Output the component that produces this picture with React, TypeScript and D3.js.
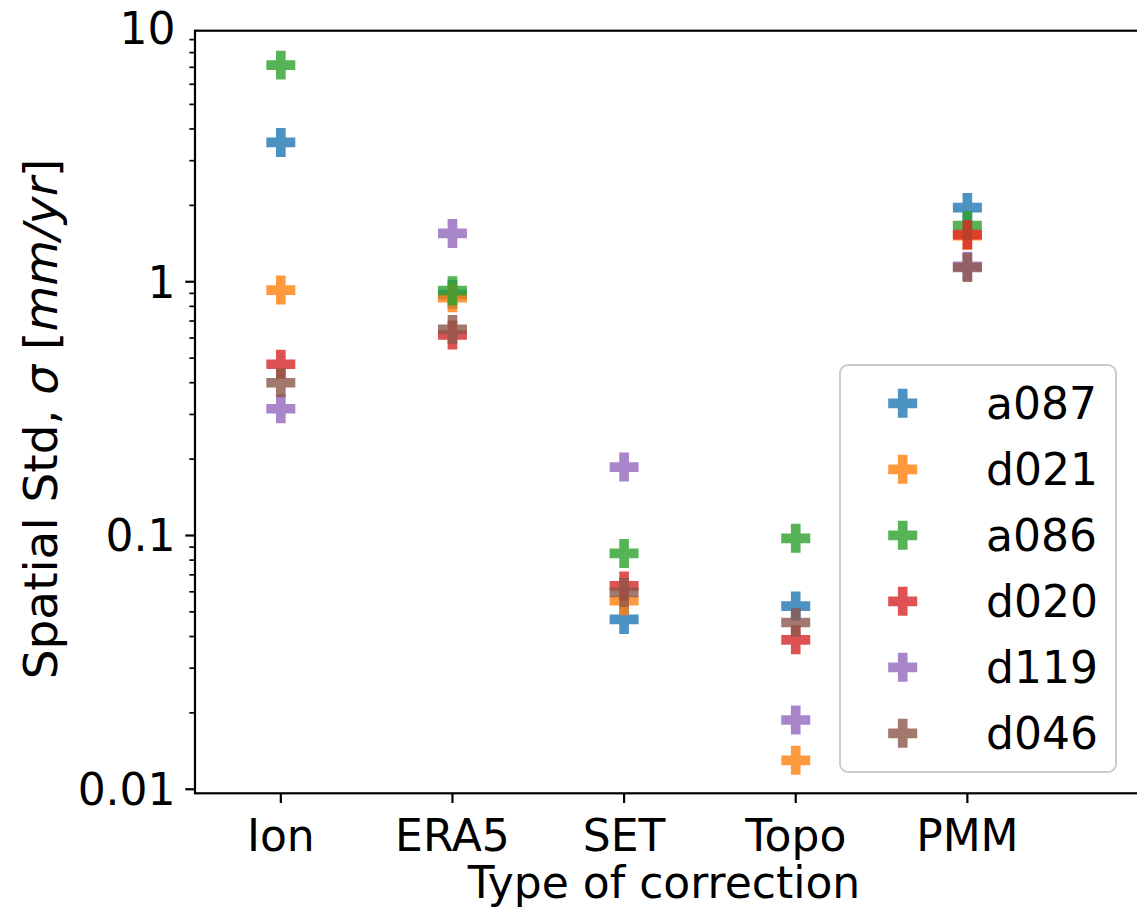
import React from "react";
import * as d3 from "d3";

const categories = ["Ion", "ERA5", "SET", "Topo", "PMM"];
const seriesNames = ["a087", "d021", "a086", "d020", "d119", "d046"];
const colors = ["#1f77b4", "#ff7f0e", "#2ca02c", "#d62728", "#9467bd", "#8c564b"];
const a087 = [3.54, 0.89, 0.0467, 0.0527, 1.96];
const d021 = [0.927, 0.865, 0.0553, 0.013, 1.52];
const a086 = [7.14, 0.922, 0.085, 0.0975, 1.665];
const d020 = [0.473, 0.617, 0.0633, 0.0388, 1.533];
const d119 = [0.316, 1.55, 0.186, 0.01875, 1.15];
const d046 = [0.4, 0.649, 0.0597, 0.0454, 1.138];
const seriesValues = [a087, d021, a086, d020, d119, d046];
const yTickValues = [0.01, 0.1, 1, 10];
const yTickLabels = ["0.01", "0.1", "1", "10"];

const W = 1137;
const H = 915;
const left = 195;
const right = 1139;
const top = 30.7;
const bottom = 793.3;
const FONT = "DejaVu Sans, sans-serif";
const FS = 44;

export default function App() {
  const x = d3.scaleLinear().domain([-0.5, 5]).range([left, right]);
  const y = d3.scaleLog().domain([0.00964, 9.758]).range([bottom, top]);
  const sym = d3.symbol(d3.symbolCross, 467)();
  const [y0, y1] = y.domain();
  const minor: number[] = [];
  for (let e = -3; e <= 1; e++) {
    for (let m = 2; m <= 9; m++) {
      const v = m * Math.pow(10, e);
      if (v >= y0 && v <= y1) minor.push(v);
    }
  }
  const legX = 840, legY = 365, legW = 276, legH = 407;
  const rowY = (i: number) => 403.3 + i * 66;
  return (
    <svg width={W} height={H} style={{ position: "absolute", left: 0, top: 0, background: "#fff" }} fontFamily={FONT}>
      <rect x={0} y={0} width={W} height={H} fill="#fff" />
      <defs>
        <clipPath id="plotclip">
          <rect x={left} y={top} width={right - left} height={bottom - top} />
        </clipPath>
      </defs>
      <g clipPath="url(#plotclip)">
        {seriesValues.map((vals, si) =>
          vals.map((v, ci) => (
            <path key={si + "-" + ci} d={sym!} transform={`translate(${x(ci)},${y(v)})`} fill={colors[si]} fillOpacity={0.8} />
          ))
        )}
      </g>
      <rect x={left} y={top} width={right - left} height={bottom - top} fill="none" stroke="#000" strokeWidth={2.2} />
      {categories.map((c, i) => (
        <g key={c}>
          <line x1={x(i)} x2={x(i)} y1={bottom} y2={bottom + 9.7} stroke="#000" strokeWidth={2.2} />
          <text x={x(i)} y={851} textAnchor="middle" fontSize={FS}>{c}</text>
        </g>
      ))}
      {yTickValues.map((v, i) => (
        <g key={v}>
          {v >= y0 && v <= y1 && (
            <line x1={left - 9.7} x2={left} y1={y(v)} y2={y(v)} stroke="#000" strokeWidth={2.2} />
          )}
          <text x={left - 19.4} y={y(v)} dy="0.36em" textAnchor="end" fontSize={FS}>{yTickLabels[i]}</text>
        </g>
      ))}
      {minor.map((v) => (
        <line key={v} x1={left - 5.6} x2={left} y1={y(v)} y2={y(v)} stroke="#000" strokeWidth={1.7} />
      ))}
      <text x={(left + right) / 2 - 3} y={898} textAnchor="middle" fontSize={FS}>Type of correction</text>
      <text transform={`translate(57,419) rotate(-90)`} textAnchor="middle" fontSize={47}>
        <tspan>Spatial Std, </tspan>
        <tspan fontStyle="italic">σ</tspan>
        <tspan> [</tspan>
        <tspan fontStyle="italic">mm/yr</tspan>
        <tspan>]</tspan>
      </text>
      <rect x={legX} y={legY} width={legW} height={legH} rx={8} ry={8} fill="#fff" fillOpacity={0.8} stroke="#cccccc" strokeWidth={2} />
      {seriesNames.map((n, i) => (
        <g key={n}>
          <path d={sym!} transform={`translate(902.7,${rowY(i)})`} fill={colors[i]} fillOpacity={0.8} />
          <text x={986} y={rowY(i)} dy="0.36em" fontSize={FS}>{n}</text>
        </g>
      ))}
    </svg>
  );
}
